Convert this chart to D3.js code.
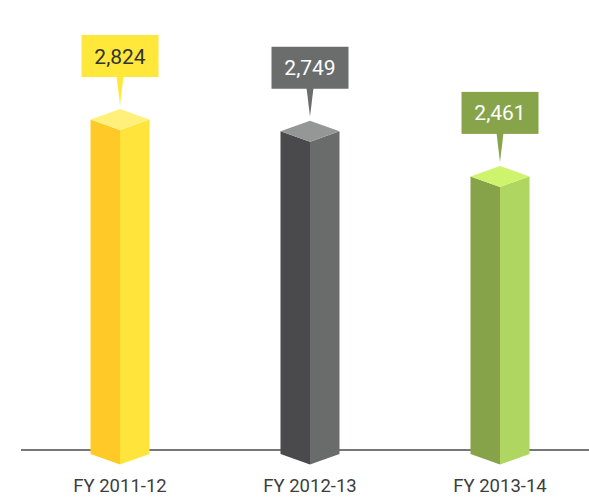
<!doctype html>
<html lang="en">
  <head>
    <meta charset="UTF-8"/>
    <title>FY bars</title>
    <script src="https://cdn.jsdelivr.net/npm/d3@7/dist/d3.min.js"></script>
    <style>
      body { margin: 0; background: #fff; }
      text { font-family: Roboto, "Liberation Sans", sans-serif; }
    </style>
  </head>
  <body>
    <div id="chart"></div>
    <script>
      var years = ["FY 2011-12", "FY 2012-13", "FY 2013-14"];
      var values = [2824, 2749, 2461];
      var labels = ["2,824", "2,749", "2,461"];

      // left face, right face, top, callout box, callout text
      var palette = [
        ["#ffca28", "#ffe53b", "#fff07c", "#ffe83a", "#333333"],
        ["#4a4a4c", "#6a6c6b", "#959696", "#6b6d6c", "#ffffff"],
        ["#86a34a", "#aed661", "#cdf46c", "#88a44b", "#ffffff"]
      ];

      var width = 589, height = 499;
      var baseY = 454, depth = 10.5, half = 29.5;

      var svg = d3.select("#chart").append("svg")
          .attr("width", width).attr("height", height);

      var x = d3.scalePoint().domain(years).range([120, 500]);
      // value -> y of the back top corner (apex)
      var y = d3.scaleLinear().domain([680, 2824]).range([445, 109]);

      svg.append("line")
        .attr("x1", 21).attr("x2", width)
        .attr("y1", 450).attr("y2", 450)
        .attr("stroke", "#77777b").attr("stroke-width", 2);

      var bars = svg.selectAll(".bar")
          .data(years)
          .enter().append("g")
          .attr("class", "bar");

      function pts(a) { return a.map(p => p.join(",")).join(" "); }

      bars.each(function(d, i) {
        var g = d3.select(this);
        var cx = x(d), apex = y(values[i]), yt = apex + depth;
        var c = palette[i];

        g.append("polygon").attr("fill", c[0]).attr("points", pts([
          [cx - half, yt], [cx, yt + depth], [cx, baseY + depth], [cx - half, baseY]]));
        g.append("polygon").attr("fill", c[1]).attr("points", pts([
          [cx, yt + depth], [cx + half, yt], [cx + half, baseY], [cx, baseY + depth]]));
        g.append("polygon").attr("fill", c[2]).attr("points", pts([
          [cx - half, yt], [cx, apex], [cx + half, yt], [cx, yt + depth]]));

        // callout
        var boxBottom = apex - 32;
        g.append("rect")
          .attr("x", cx - 38.5).attr("y", boxBottom - 42)
          .attr("width", 77).attr("height", 42)
          .attr("fill", c[3]);
        g.append("polygon").attr("fill", c[3]).attr("points", pts([
          [cx - 3.5, boxBottom - 1], [cx + 3.5, boxBottom - 1], [cx, apex - 4]]));
        g.append("text")
          .attr("x", cx).attr("y", boxBottom - 13.5)
          .attr("text-anchor", "middle")
          .attr("font-size", 21)
          .attr("fill", c[4])
          .text(labels[i]);

        g.append("text")
          .attr("x", cx).attr("y", 492)
          .attr("text-anchor", "middle")
          .attr("font-size", 18.5)
          .attr("fill", "#3d3d3d")
          .text(d);
      });
    </script>
  </body>
</html>
